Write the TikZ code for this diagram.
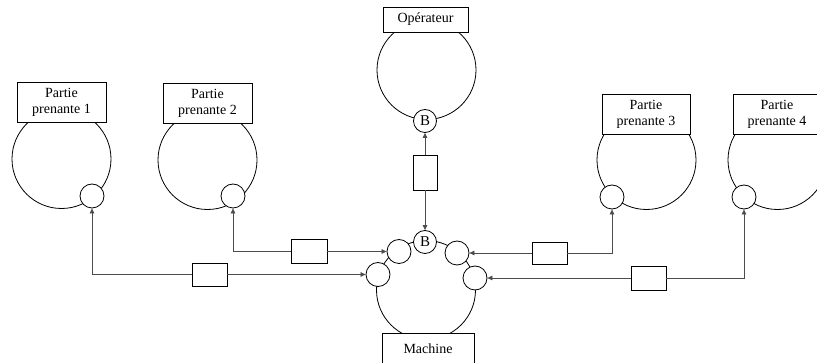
\documentclass[tikz,border=0pt]{standalone}
\usepackage{fontspec}
\setmainfont{Liberation Serif}
\usetikzlibrary{arrows.meta}
\begin{document}
\begin{tikzpicture}[x=1pt,y=-1pt,
  bigc/.style={draw, circle, line width=0.8pt, minimum size=99pt, inner sep=0pt},
  smallc/.style={draw, circle, fill=white, line width=0.8pt, minimum size=24pt, inner sep=0pt, font=\fontsize{15}{16}\selectfont},
  pbox/.style={draw, fill=white, line width=0.8pt, minimum width=89pt, minimum height=40pt, inner sep=0pt, align=center, font=\fontsize{14}{16}\selectfont},
  rbox/.style={draw, fill=white, line width=0.8pt, inner sep=0pt},
  conn/.style={draw=black!70, line width=0.7pt},
  tip/.style={-{Triangle[length=5pt,width=4.5pt]}},
  tipb/.style={{Triangle[length=5pt,width=4.5pt]}-}
]
\useasboundingbox (0,0) rectangle (817,363);
% big circles
\node[bigc] (c1) at (61.5,159) {};
\node[bigc] (c2) at (207.5,160) {};
\node[bigc] (c3) at (646.5,160) {};
\node[bigc] (c4) at (777.5,160) {};
\node[bigc] (c0) at (426.5,70) {};
\node[bigc] (cm) at (426,290) {};
% labels
\node[pbox] (p1) at (61.5,102.5) {Partie\\prenante 1};
\node[pbox] (p2) at (207.5,103) {Partie\\prenante 2};
\node[pbox, minimum width=88pt] (p3) at (646,114) {Partie\\prenante 3};
\node[pbox, minimum width=88pt] (p4) at (777,114) {Partie\\prenante 4};
\node[pbox, minimum width=85pt, minimum height=25pt] (p0) at (425.5,19.5) {Opérateur};
\node[pbox, minimum width=92pt] (pm) at (428,353) {};
\node[font=\fontsize{14}{16}\selectfont] (pmt) at (428,349) {Machine};
% small circles
\node[smallc] (s1) at (92,196) {};
\node[smallc] (s2) at (233,196) {};
\node[smallc] (s3) at (612,197) {};
\node[smallc] (s4) at (744,197) {};
\node[smallc, minimum size=23pt] (b0) at (425,121) {B};
\node[smallc, minimum size=23pt] (mB) at (425,242) {B};
\node[smallc] (ml1) at (399,251.5) {};
\node[smallc] (ml2) at (378,274.5) {};
\node[smallc] (mr1) at (457,253) {};
\node[smallc] (mr2) at (475,278) {};
% rectangles on connectors
\node[rbox, minimum width=35pt, minimum height=23pt] (r1) at (209.5,274.5) {};
\node[rbox, minimum width=36pt, minimum height=24pt] (r2) at (309,251.5) {};
\node[rbox, minimum width=35pt, minimum height=22pt] (r3) at (549.5,253) {};
\node[rbox, minimum width=35pt, minimum height=24pt] (r4) at (648.5,278) {};
\node[rbox, minimum width=24pt, minimum height=35pt] (r0) at (425,172.5) {};
% connectors
\draw[conn, tip] (r1.west) -| (s1.south);
\draw[conn, tip] (r1.east) -- (ml2.west);
\draw[conn, tip] (r2.west) -| (s2.south);
\draw[conn, tip] (r2.east) -- (ml1.west);
\draw[conn, tip] (r3.east) -| (s3.south);
\draw[conn, tip] (r3.west) -- (mr1.east);
\draw[conn, tip] (r4.east) -| (s4.south);
\draw[conn, tip] (r4.west) -- (mr2.east);
\draw[conn, tip] (r0.north) -- (b0.south);
\draw[conn, tip] (r0.south) -- (mB.north);
\end{tikzpicture}
\end{document}
